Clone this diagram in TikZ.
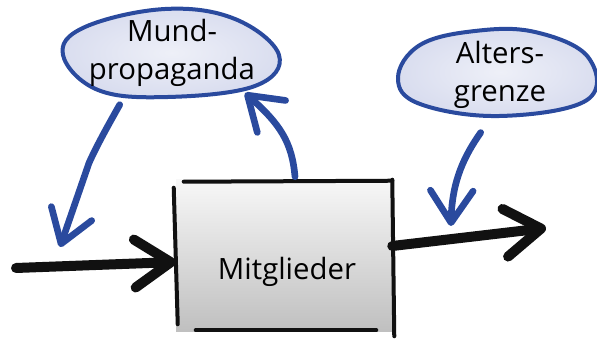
\documentclass[tikz,border=0pt]{standalone}
\usepackage{fontspec}
\setmainfont{Open Sans}
\usetikzlibrary{arrows.meta,shapes.geometric}
\definecolor{penblue}{HTML}{2A4A9E}
\definecolor{cloudfill}{HTML}{D9DDEF}
\definecolor{ink}{HTML}{111111}
\begin{document}
\begin{tikzpicture}[x=0.75pt,y=-0.75pt,
  flow/.style={draw=ink,line width=7.5pt,line cap=round,
    -{Straight Barb[length=27pt,width=36pt,line cap=round,line join=round]}},
  link/.style={draw=penblue,line width=5pt,line cap=round,line join=round,
    -{Straight Barb[length=24pt,width=32pt,line cap=round,line join=round]}},
  cloudline/.style={draw=penblue,line width=3pt,line join=round,
    inner color=white!55!cloudfill,outer color=cloudfill},
  cloud/.style={ellipse,inner sep=0pt,
    align=center,font=\fontsize{22}{29}\selectfont},
  edge/.style={draw=ink,line width=3pt,line cap=round},
  lbl/.style={font=\fontsize{22}{28}\selectfont,inner sep=0pt}]
\useasboundingbox (0,0) rectangle (597,341);
% stock
\node[rectangle,minimum width=162pt,minimum height=114pt,inner sep=0pt,
  top color=gray!6,bottom color=gray!50] (stock) at (284,256) {};
\node[lbl] (stocklbl) at (287,272) {Mitglieder};
\draw[edge] ([shift={(8,2)}]stock.north west) -- ([shift={(0,1)}]stock.north east);
\draw[edge] ([shift={(-2,8)}]stock.north west) -- ([shift={(2,-8)}]stock.south west);
\draw[edge] ([shift={(0,0)}]stock.north east) -- ([shift={(2,4)}]stock.south east);
\draw[edge] ([shift={(20,-2)}]stock.south west) -- ([shift={(-16,-2)}]stock.south east);
% clouds
\draw[cloudline] plot[smooth cycle,tension=0.65] coordinates
  {(63,55) (85,27) (165,9) (235,19) (279,55) (255,86) (168,97) (98,90)};
\draw[cloudline] plot[smooth cycle,tension=0.65] coordinates
  {(398,78) (420,45) (475,31) (535,32) (588,57) (587,100) (500,116) (420,104)};
\node[cloud,minimum width=162pt,minimum height=67pt] (mund) at (172,53) {Mund-\\propaganda};
\node[cloud,minimum width=145pt,minimum height=64pt] (alter) at (500,75) {Alters-\\grenze};
% flows
\coordinate (src) at (16,268);
\coordinate (sink) at (546,228);
\draw[flow] (src) -- ([shift={(0,6)}]stock.west);
\draw[flow] ([shift={(0,-10)}]stock.east) -- (sink);
% links
\coordinate (inpt) at (60,247);
\coordinate (outpt) at (451,226);
\draw[link] ([shift={(-2,8)}]mund.221) .. controls (110,122) and (97,145) .. (89,163) -- (inpt);
\draw[link] ([shift={(11,-3)}]stock.north) .. controls (292,142) and (280,124) .. ([shift={(73,40)}]mund.center);
\draw[link] ([shift={(-2,10)}]alter.250) .. controls (465,155) and (452,180) .. (outpt);
\end{tikzpicture}
\end{document}
